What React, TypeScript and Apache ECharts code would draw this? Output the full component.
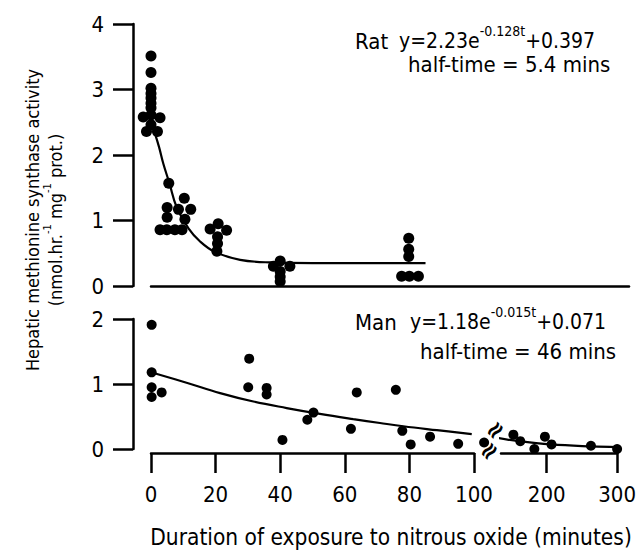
import React, { useEffect, useRef } from "react";
import * as echarts from "echarts";

const FONT =
  "'Liberation Sans Narrow', 'DejaVu Sans Condensed', 'Roboto Condensed', 'Liberation Sans', sans-serif";

// Rat: duration (min), activity
const ratPoints: number[][] = [
  [0, 3.51], [0, 3.26], [0, 3.02], [0, 2.94], [0, 2.87], [0, 2.79], [0, 2.72],
  [0, 2.61], [-2.4, 2.58], [2.8, 2.57], [0, 2.46], [-1.4, 2.36], [2.0, 2.36],
  [5.5, 1.57],
  [2.8, 0.86], [4.9, 0.86], [7.4, 0.86], [9.6, 0.86],
  [5.0, 1.2], [5.0, 1.05],
  [10.3, 1.34], [8.5, 1.17], [12.3, 1.17], [10.5, 1.02],
  [20.8, 0.95], [18.3, 0.87], [23.4, 0.85], [20.6, 0.75], [20.6, 0.65], [20.4, 0.53],
  [40, 0.38], [37.9, 0.3], [43, 0.3], [40, 0.22], [40, 0.14], [40, 0.07],
  [79.8, 0.73], [79.8, 0.56], [79.8, 0.45], [77.6, 0.15], [80, 0.15], [82.8, 0.15],
];
const ratCurve: number[][] = [
  [1.2, 2.33], [2.5, 2.12], [3.8, 1.87], [5.7, 1.57], [7.9, 1.21], [11.6, 0.88],
  [15.2, 0.68], [19.8, 0.52], [27.6, 0.4], [36.8, 0.36], [50, 0.35], [85, 0.35],
];

// Man
const manPointsEarly: number[][] = [
  [0.2, 1.91], [0.2, 1.18], [0.2, 0.95], [3.3, 0.87], [0.2, 0.8],
  [30.4, 1.39], [30.1, 0.95], [35.8, 0.94], [35.8, 0.84], [40.7, 0.14],
  [48.4, 0.45], [50.3, 0.56], [61.9, 0.31], [63.7, 0.87], [75.8, 0.91],
  [77.8, 0.28], [80.4, 0.07], [86.4, 0.19], [95.1, 0.08],
];
const manPointsLate: number[][] = [
  [111, 0.1], [152.6, 0.22], [162.4, 0.12], [182.4, 0.0], [197.4, 0.19],
  [206.8, 0.07], [262.8, 0.05], [300, 0.0],
];
const manCurveEarly: number[][] = [
  [0, 1.18], [11, 1.02], [21.4, 0.86], [31.7, 0.73], [42, 0.63], [52.3, 0.54],
  [62.6, 0.46], [70.9, 0.4], [78.1, 0.35], [88.5, 0.29], [99.3, 0.23],
];
const manCurveLate: number[][] = [
  [130, 0.17], [160, 0.12], [206, 0.07], [264, 0.04], [300, 0.03],
];
const lateTicks = [200, 300];

const lineStyle = (color = "#000") => ({ color, width: 2.5, opacity: 1, type: "solid" });
const tick = (extra: any = {}, color = "#000") => ({
  show: true, inside: false, length: 20, lineStyle: lineStyle(color), ...extra,
});
const labelStyle = () => ({ show: true, color: "#000", fontSize: 22, fontFamily: FONT });

const textStyle = (text: string, size: number, align: string, vAlign: string, extra: any = {}) => ({
  text, fill: "#000", fontSize: size, fontFamily: FONT,
  align, verticalAlign: vAlign, textAlign: align, textVerticalAlign: vAlign, ...extra,
});

export default function App() {
  const ref = useRef<HTMLDivElement>(null);
  useEffect(() => {
    if (!ref.current) return;
    const chart = echarts.init(ref.current, undefined, { renderer: "svg" });
    const dot = { color: "#000", opacity: 1 };
    const curve = { color: "#000", width: 2.2, opacity: 1 };
    const rich = {
      n: { fontSize: 21, fontFamily: FONT, lineHeight: 34, fill: "#000", color: "#000" },
      s: { fontSize: 14, fontFamily: FONT, lineHeight: 15, verticalAlign: "top", fill: "#000", color: "#000" },
    };
    const option: any = {
      animation: false,
      backgroundColor: "#fff",
      grid: [
        { left: 151, top: 24, width: 478, height: 262 },
        { left: 151, top: 319, width: 323, height: 130 },
        { left: 501, top: 319, width: 129, height: 130 },
      ],
      xAxis: [
        {
          gridIndex: 0, type: "value", min: 0, max: 148,
          axisLine: { show: true, onZero: false, lineStyle: lineStyle() },
          axisTick: { show: false }, axisLabel: { show: false }, splitLine: { show: false },
        },
        {
          gridIndex: 1, type: "value", min: 0, max: 100, interval: 20, offset: 4,
          axisLine: { show: true, onZero: false, lineStyle: lineStyle() },
          axisTick: tick(),
          axisLabel: { ...labelStyle(), margin: 30, showMinLabel: true, showMaxLabel: true },
          splitLine: { show: false },
        },
        {
          gridIndex: 2, type: "value", min: 135, max: 300, offset: 4,
          axisLine: { show: true, onZero: false, lineStyle: lineStyle() },
          axisTick: tick({ customValues: lateTicks }),
          axisLabel: { ...labelStyle(), margin: 30, customValues: lateTicks },
          splitLine: { show: false },
        },
      ],
      yAxis: [
        {
          gridIndex: 0, type: "value", min: 0, max: 4, interval: 1, offset: 18,
          axisLine: { show: true, onZero: false, lineStyle: lineStyle() },
          axisTick: tick(),
          axisLabel: { ...labelStyle(), margin: 29 },
          splitLine: { show: false },
        },
        {
          gridIndex: 1, type: "value", min: 0, max: 2, interval: 1, offset: 18,
          axisLine: { show: true, onZero: false, lineStyle: lineStyle() },
          axisTick: tick(),
          axisLabel: { ...labelStyle(), margin: 29 },
          splitLine: { show: false },
        },
        { gridIndex: 2, type: "value", min: 0, max: 2, show: false },
      ],
      series: [
        {
          type: "scatter", xAxisIndex: 0, yAxisIndex: 0, data: ratPoints,
          symbolSize: 11, itemStyle: dot, clip: false,
        },
        {
          type: "line", xAxisIndex: 0, yAxisIndex: 0, data: ratCurve, smooth: 0.4,
          showSymbol: false, lineStyle: curve, clip: false,
        },
        {
          type: "scatter", xAxisIndex: 1, yAxisIndex: 1, data: manPointsEarly,
          symbolSize: 10, itemStyle: dot, clip: false,
        },
        {
          type: "line", xAxisIndex: 1, yAxisIndex: 1, data: manCurveEarly, smooth: 0.4,
          showSymbol: false, lineStyle: curve, clip: false,
        },
        {
          type: "scatter", xAxisIndex: 2, yAxisIndex: 2, data: manPointsLate,
          symbolSize: 10, itemStyle: dot, clip: false,
        },
        {
          type: "line", xAxisIndex: 2, yAxisIndex: 2, data: manCurveLate, smooth: 0.4,
          showSymbol: false, lineStyle: curve, clip: false,
        },
      ],
      graphic: [
        {
          type: "text", x: 32, y: 220, rotation: Math.PI / 2,
          style: textStyle("Hepatic methionine synthase activity", 18, "center", "middle"),
        },
        {
          type: "text", x: 55, y: 220, rotation: Math.PI / 2,
          style: textStyle("{m|(nmol.hr.}{t|-1}{m| mg}{t|-1}{m| prot.)}", 18, "center", "middle", {
            rich: {
              m: { fontSize: 18, fontFamily: FONT, lineHeight: 26, fill: "#000", color: "#000" },
              t: { fontSize: 11, fontFamily: FONT, lineHeight: 13, verticalAlign: "top", fill: "#000", color: "#000" },
            },
          }),
        },
        {
          type: "text", x: 391, y: 537,
          style: textStyle("Duration of exposure to nitrous oxide (minutes)", 22.5, "center", "middle"),
        },
        { type: "text", x: 355, y: 41, style: textStyle("Rat", 22, "left", "middle") },
        {
          type: "text", x: 399, y: 24,
          style: textStyle("{n|y=2.23e}{s|-0.128t}{n|+0.397}", 21, "left", "top", { rich }),
        },
        { type: "text", x: 408, y: 64, style: textStyle("half-time = 5.4 mins", 22, "left", "middle") },
        { type: "text", x: 355, y: 322, style: textStyle("Man", 22, "left", "middle") },
        {
          type: "text", x: 410, y: 305,
          style: textStyle("{n|y=1.18e}{s|-0.015t}{n|+0.071}", 21, "left", "top", { rich }),
        },
        { type: "text", x: 420, y: 351, style: textStyle("half-time = 46 mins", 22, "left", "middle") },
        {
          type: "text", x: 495, y: 430, rotation: Math.PI / 4,
          style: { ...textStyle("≈", 24, "center", "middle"), fontWeight: "bold", fontFamily: "DejaVu Sans" },
        },
        {
          type: "text", x: 489, y: 451, rotation: Math.PI / 4,
          style: { ...textStyle("≈", 24, "center", "middle"), fontWeight: "bold", fontFamily: "DejaVu Sans" },
        },
      ],
    };
    chart.setOption(option);
    return () => chart.dispose();
  }, []);
  return (
    <div
      ref={ref}
      style={{ position: "fixed", left: 0, top: 0, width: 639, height: 552, background: "#fff" }}
    />
  );
}
